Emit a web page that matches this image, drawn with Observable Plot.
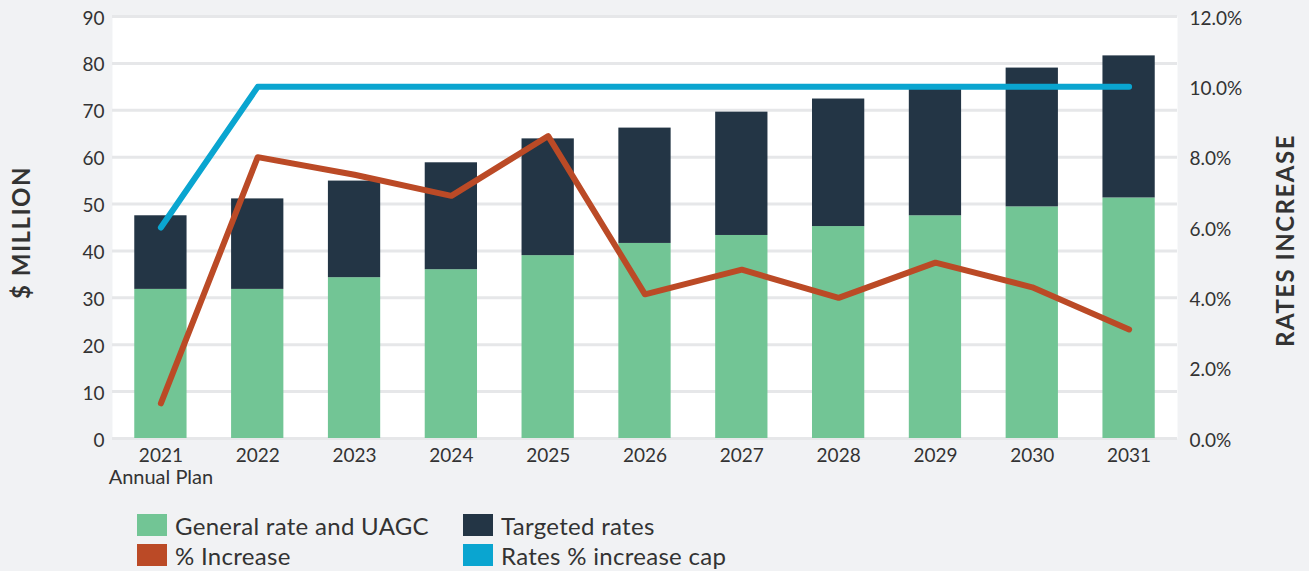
<!DOCTYPE html>
<html>
<head>
<meta charset="utf-8">
<script src="https://cdn.jsdelivr.net/npm/d3@7"></script>
<script src="https://cdn.jsdelivr.net/npm/@observablehq/plot@0.6"></script>
<style>
  html, body { margin: 0; padding: 0; background: #f1f2f4; }
  body { width: 1309px; height: 571px; position: relative; overflow: hidden; font-family: Lato, "Open Sans", sans-serif; color: #333; }
  #chart { position: absolute; left: 0; top: 0; }
  .leg { position: absolute; display: flex; align-items: center; font-size: 24px; letter-spacing: 0.3px; color: #333; white-space: nowrap; }
  .sw { width: 30px; height: 22px; margin-right: 8px; flex: none; }
</style>
</head>
<body>
<div id="chart"></div>
<div class="leg" style="left:137px; top:514px; height:22px;"><div class="sw" style="background:#72c595"></div><span>General rate and UAGC</span></div>
<div class="leg" style="left:463px; top:514px; height:22px;"><div class="sw" style="background:#233545"></div><span>Targeted rates</span></div>
<div class="leg" style="left:137px; top:544px; height:22px;"><div class="sw" style="background:#bb4a26"></div><span>% Increase</span></div>
<div class="leg" style="left:463px; top:544px; height:22px;"><div class="sw" style="background:#0aa5d0"></div><span>Rates % increase cap</span></div>
<script>
const years = ["2021","2022","2023","2024","2025","2026","2027","2028","2029","2030","2031"];
const generalRate = [31.8, 31.8, 34.3, 36.0, 39.0, 41.6, 43.3, 45.2, 47.5, 49.4, 51.3];
const targetedRates = [15.7, 19.3, 20.6, 22.8, 24.9, 24.6, 26.3, 27.2, 27.0, 29.6, 30.3];
const pctIncrease = [1.0, 8.0, 7.5, 6.9, 8.6, 4.1, 4.8, 4.0, 5.0, 4.3, 3.1];
const capPct = [6.0, 10.0, 10.0, 10.0, 10.0, 10.0, 10.0, 10.0, 10.0, 10.0, 10.0];
const leftTicks = [0, 10, 20, 30, 40, 50, 60, 70, 80, 90];
const rightTicksPct = [0, 2, 4, 6, 8, 10, 12];
const seriesNames = ["General rate and UAGC", "Targeted rates"];
const seriesColors = ["#72c595", "#233545"];

const K = 90 / 12; // $M units per percent (dual axis)

const bars = [];
years.forEach((y, i) => {
  bars.push({year: y, series: seriesNames[0], value: generalRate[i]});
  bars.push({year: y, series: seriesNames[1], value: targetedRates[i]});
});
const pctRows = years.map((y, i) => ({year: y, v: pctIncrease[i] * K}));
const capRows = years.map((y, i) => ({year: y, v: capPct[i] * K}));

const chart = Plot.plot({
  width: 1309,
  height: 500,
  marginLeft: 112,
  marginRight: 132,
  marginTop: 16,
  marginBottom: 62,
  style: {fontFamily: "Lato, 'Open Sans', sans-serif", fontSize: "19px", color: "#333", background: "transparent"},
  x: {domain: years, paddingInner: 0.46, paddingOuter: 0.23, round: false, axis: null},
  y: {domain: [0, 90], axis: null},
  color: {domain: seriesNames, range: seriesColors},
  marks: [
    Plot.frame({fill: "white", stroke: null}),
    Plot.ruleY(leftTicks, {stroke: "#e6e7e9", strokeWidth: 3}),
    Plot.barY(bars, {x: "year", y: "value", fill: "series"}),
    Plot.line(capRows, {x: "year", y: "v", stroke: "#0aa5d0", strokeWidth: 6, strokeLinecap: "round", strokeLinejoin: "round"}),
    Plot.line(pctRows, {x: "year", y: "v", stroke: "#bb4a26", strokeWidth: 6, strokeLinecap: "round", strokeLinejoin: "round"}),
    Plot.axisY({anchor: "left", ticks: leftTicks, tickSize: 0, tickPadding: 8, dy: 2, label: null, fontSize: 19, fill: "#333"}),
    Plot.axisY({anchor: "right", ticks: rightTicksPct.map(p => p * K), tickFormat: d => (d / K).toFixed(1) + "%", tickSize: 0, tickPadding: 12, dy: 2, label: null, fontSize: 19, fill: "#333"}),
    Plot.axisX({anchor: "bottom", tickSize: 0, tickPadding: 10, label: null, fontSize: 19, fill: "#333"}),
    Plot.text(["Annual Plan"], {x: () => years[0], y: () => 0, text: d => d, lineAnchor: "top", dy: 31, fontSize: 20, fill: "#333"}),
    Plot.text(["$ MILLION"], {frameAnchor: "left", textAnchor: "middle", dx: -90, dy: 5, rotate: -90, text: d => d, fontSize: 24, fontWeight: "bold", fill: "#333"}),
    Plot.text(["RATES INCREASE"], {frameAnchor: "right", textAnchor: "middle", dx: 109, dy: 13, rotate: -90, text: d => d, fontSize: 24, fontWeight: "bold", fill: "#333"})
  ]
});
d3.select(chart).selectAll("text")
  .filter(function() { return this.textContent === "$ MILLION" || this.textContent === "RATES INCREASE"; })
  .style("letter-spacing", "1.5px");
document.getElementById("chart").appendChild(chart);
</script>
</body>
</html>
